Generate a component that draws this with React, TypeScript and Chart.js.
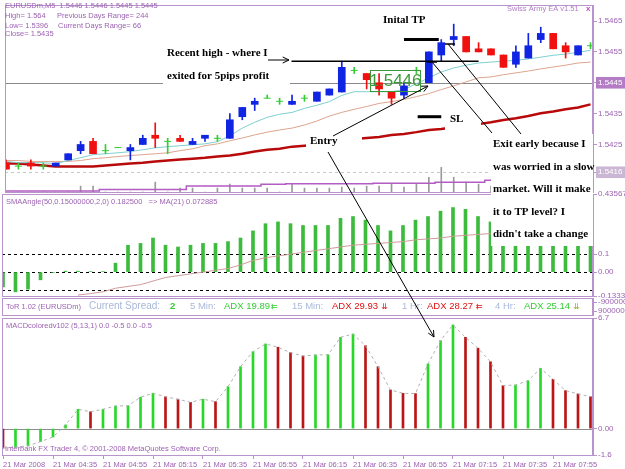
import React, { useEffect, useRef } from 'react';
import { Chart, registerables } from 'chart.js';
Chart.register(...registerables);

const W = 625;
const H = 469;
const X_MIN = -0.08;
const X_MAX = 47.2;
const AXIS_C = '#b994cc';
const TXT_C = '#9c62b2';
const UI = "'Liberation Sans', Arial, sans-serif";
const TICKF = "'Liberation Sans Narrow', 'Liberation Sans', sans-serif";
const NOTE = "bold 11px 'Liberation Serif', 'Times New Roman', serif";
const BULL = '#1024e4';
const BEAR = '#f01010';
const DOJI = '#33cc33';

// ---- time axis (5-minute bars, 21 Mar 2008 04:15 .. 08:10)
const tickBars = [0, 4, 8, 12, 16, 20, 24, 28, 32, 36, 40, 44];
const tickLabels = ['21 Mar 2008', '21 Mar 04:35', '21 Mar 04:55', '21 Mar 05:15', '21 Mar 05:35', '21 Mar 05:55', '21 Mar 06:15', '21 Mar 06:35', '21 Mar 06:55', '21 Mar 07:15', '21 Mar 07:35', '21 Mar 07:55'];

// ---- price candles
const open = [1.5419, 1.5418, 1.5419, 1.5418, 1.5418, 1.5420, 1.5423, 1.5426, 1.5423, 1.5424, 1.5423, 1.5425, 1.5428, 1.5426, 1.5427, 1.5425, 1.5427, 1.5427, 1.5427, 1.5434, 1.5438, 1.5440, 1.5439, 1.5438, 1.5440, 1.5439, 1.5441, 1.5442, 1.5449, 1.5448, 1.5445, 1.5442, 1.5441, 1.5449, 1.5445, 1.5454, 1.5459, 1.5460, 1.5456, 1.5456, 1.5454, 1.5451, 1.5453, 1.5459, 1.5461, 1.5457, 1.5454, 1.5457];
const high = [1.5420, 1.5419, 1.5420, 1.5419, 1.5419, 1.5422, 1.5426, 1.5427, 1.5425, 1.5424, 1.5425, 1.5428, 1.5432, 1.5427, 1.5428, 1.5427, 1.5428, 1.5428, 1.5435, 1.5437, 1.5440, 1.5441, 1.5440, 1.5441, 1.5441, 1.5442, 1.5443, 1.5452, 1.5450, 1.5448, 1.5448, 1.5442, 1.5445, 1.5450, 1.5455, 1.5459, 1.5464, 1.5460, 1.5458, 1.5456, 1.5454, 1.5457, 1.5461, 1.5463, 1.5461, 1.5458, 1.5457, 1.5458];
const low = [1.5417, 1.5417, 1.5417, 1.5417, 1.5418, 1.5420, 1.5422, 1.5422, 1.5422, 1.5424, 1.5420, 1.5425, 1.5424, 1.5422, 1.5426, 1.5425, 1.5426, 1.5426, 1.5427, 1.5433, 1.5436, 1.5440, 1.5438, 1.5438, 1.5439, 1.5439, 1.5441, 1.5442, 1.5448, 1.5443, 1.5441, 1.5438, 1.5440, 1.5448, 1.5445, 1.5452, 1.5457, 1.5455, 1.5455, 1.5454, 1.5450, 1.5450, 1.5453, 1.5458, 1.5456, 1.5453, 1.5454, 1.5456];
const close = [1.5417, 1.5418, 1.5418, 1.5418, 1.5419, 1.5422, 1.5425, 1.5422, 1.5423, 1.5424, 1.5424, 1.5427, 1.5427, 1.5426, 1.5426, 1.5426, 1.5428, 1.5427, 1.5433, 1.5437, 1.5439, 1.5440, 1.5439, 1.5439, 1.5440, 1.5442, 1.5443, 1.5450, 1.5449, 1.5446, 1.5443, 1.5440, 1.5444, 1.5449, 1.5455, 1.5458, 1.5460, 1.5455, 1.5455, 1.5454, 1.5450, 1.5455, 1.5457, 1.5461, 1.5456, 1.5455, 1.5457, 1.5457];

// ---- moving averages on price
const maFast = [1.54195, 1.54191, 1.54191, 1.54191, 1.54188, 1.54198, 1.54207, 1.54217, 1.54220, 1.54223, 1.54227, 1.54233, 1.54239, 1.54243, 1.54246, 1.54249, 1.54252, 1.54259, 1.54278, 1.54303, 1.54322, 1.54338, 1.54348, 1.54354, 1.54367, 1.54377, 1.54389, 1.54409, 1.54421, 1.54421, 1.54421, 1.54421, 1.54428, 1.54447, 1.54466, 1.54485, 1.54498, 1.54507, 1.54514, 1.54517, 1.54520, 1.54523, 1.54527, 1.54533, 1.54539, 1.54543, 1.54549, 1.54555];
const maMid = [1.54198, 1.54198, 1.54195, 1.54195, 1.54195, 1.54195, 1.54198, 1.54204, 1.54207, 1.54211, 1.54214, 1.54217, 1.54220, 1.54223, 1.54230, 1.54236, 1.54246, 1.54252, 1.54262, 1.54271, 1.54281, 1.54290, 1.54297, 1.54303, 1.54313, 1.54326, 1.54342, 1.54354, 1.54364, 1.54373, 1.54383, 1.54389, 1.54396, 1.54405, 1.54415, 1.54428, 1.54440, 1.54453, 1.54466, 1.54469, 1.54476, 1.54482, 1.54488, 1.54495, 1.54501, 1.54507, 1.54514, 1.54517];
const maSlow = [1.54188, 1.54188, 1.54185, 1.54182, 1.54179, 1.54179, 1.54179, 1.54179, 1.54182, 1.54185, 1.54188, 1.54191, 1.54195, 1.54198, 1.54201, 1.54204, 1.54207, 1.54211, 1.54214, 1.54220, 1.54227, 1.54233, 1.54236, 1.54243, 1.54246, 1.54249, 1.54255, 1.54262, 1.54268, 1.54271, 1.54274, 1.54281, 1.54284, 1.54290, 1.54297, 1.54300, 1.54306, 1.54310, 1.54316, 1.54322, 1.54329, 1.54335, 1.54342, 1.54351, 1.54357, 1.54364, 1.54370, 1.54380];

// ---- volume strip at the foot of the price window
const volLine = [0.1, 0.1, 0.1, 0.1, 0.1, 0.1, 0.1, 0.1, 0.25, 0.25, 0.25, 0.25, 0.25, 0.25, 0.25, 0.6, 0.6, 0.6, 0.6, 0.6, 0.6, 0.8, 0.8, 0.85, 0.85, 0.85, 0.85, 0.85, 0.85, 0.85, 0.9, 0.9, 0.9, 0.9, 0.9, 1.0, 1.0, 1.0, 1.0, 1.2, 1.2, 1.2, 1.2, 1.2, 1.2, 1.2, 1.2, 1.2];
const volTicks = [0, 0, 0, 0, 0, 0, 0.6, 0.6, 0, 0, 0, 0, 1.0, 0, 0.4, 0.4, 0, 0.4, 0.8, 0.4, 0.4, 0.4, 0, 0.8, 0.4, 0.4, 0.4, 0.5, 0.4, 0.6, 0.6, 0.8, 0.5, 0.8, 1.5, 2.5, 1.5, 1.0, 0.8, 0.6, 0.5, 0.5, 0.4, 0.5, 0.4, 0.4, 0.5, 0.4];

// ---- price axis
const priceTicks = [1.5465, 1.5455, 1.5445, 1.5435, 1.5425, 1.5416];
const bidLevel = 1.5445;
const lowLevel = 1.5416;

// ---- SMAAngle window
const smaAngle = [-0.083, -0.11, -0.095, -0.043, -0.003, 0.005, 0.005, 0.003, 0.003, 0.05, 0.15, 0.16, 0.19, 0.15, 0.14, 0.15, 0.16, 0.16, 0.17, 0.19, 0.23, 0.27, 0.28, 0.27, 0.26, 0.26, 0.26, 0.30, 0.31, 0.29, 0.26, 0.23, 0.26, 0.29, 0.31, 0.34, 0.36, 0.35, 0.31, 0.28, 0.26, 0.25, 0.25, 0.26, 0.25, 0.24, 0.23, 0.22];
const smaAngleMA = [null, null, null, null, null, null, -0.128, -0.12, -0.11, -0.09, -0.08, -0.07, -0.05, -0.03, -0.02, -0.01, 0, 0.01, 0.02, 0.04, 0.065, 0.08, 0.09, 0.10, 0.11, 0.12, 0.13, 0.14, 0.15, 0.155, 0.16, 0.165, 0.17, 0.18, 0.185, 0.19, 0.2, 0.205, 0.21, 0.215, 0.22, 0.225, 0.23, 0.235, 0.24, 0.245, 0.25, 0.25];
const smaTicks = [0.435675, 0.1, 0, -0.13337];
const smaTickLabels = ['0.435675', '0.1', '0.00', '-0.13337'];
const smaLevels = [0.1, 0, -0.1];

// ---- ToR window
const torTicks = [-9000000, 9000000];

// ---- MACD window
const macd = [-1.18, -1.12, -1.05, -0.79, -0.51, 0.22, 1.17, 1.02, 1.17, 1.37, 1.38, 1.90, 2.14, 1.93, 1.78, 1.59, 1.78, 1.63, 2.54, 3.75, 4.66, 5.13, 4.93, 4.60, 4.40, 4.46, 4.47, 5.53, 5.73, 5.02, 3.75, 2.34, 2.14, 2.12, 3.92, 5.33, 6.28, 5.53, 4.87, 4.05, 2.60, 2.64, 2.90, 3.65, 2.99, 2.30, 2.10, 1.93];
const macdSignal = [-1.18, -1.12, -1.05, -0.79, -0.51, 0.22, 1.17, 1.02, 1.17, 1.37, 1.38, 1.90, 2.14, 1.93, 1.78, 1.59, 1.78, 1.63, 2.54, 3.75, 4.66, 5.13, 4.93, 4.60, 4.40, 4.46, 4.47, 5.53, 5.73, 5.02, 3.75, 2.34, 2.14, 2.12, 3.92, 5.33, 6.28, 5.53, 4.87, 4.05, 2.60, 2.64, 2.90, 3.65, 2.99, 2.30, 2.10, 1.93];
const macdTicks = [6.7, 0, -1.6];
const macdTickLabels = ['6.7', '0.00', '-1.6'];

// ---- chart drawings (price / bar coordinates)
const recentHigh = { price: 1.5452, from: 22.96, to: 38 };
const tpMark = { price: 1.5459, from: 32, to: 34.8 };
const slMark = { price: 1.5434, from: 33.1, to: 35 };

const bars = open.map((_, i) => i);

function txt(ctx: any, s: string, x: number, y: number, font: string, color: string, align = 'left') {
  ctx.save();
  ctx.font = font;
  ctx.fillStyle = color;
  ctx.textAlign = align;
  ctx.textBaseline = 'middle';
  ctx.fillText(s, x, y);
  ctx.restore();
}

function line(ctx: any, x1: number, y1: number, x2: number, y2: number, w = 1, color = '#000', dash: number[] = []) {
  ctx.save();
  ctx.strokeStyle = color;
  ctx.lineWidth = w;
  ctx.setLineDash(dash);
  ctx.beginPath();
  ctx.moveTo(x1, y1);
  ctx.lineTo(x2, y2);
  ctx.stroke();
  ctx.restore();
}

function arrow(ctx: any, x1: number, y1: number, x2: number, y2: number) {
  line(ctx, x1, y1, x2, y2);
  const a = Math.atan2(y2 - y1, x2 - x1);
  const L = 7;
  line(ctx, x2, y2, x2 - L * Math.cos(a - 0.45), y2 - L * Math.sin(a - 0.45));
  line(ctx, x2, y2, x2 - L * Math.cos(a + 0.45), y2 - L * Math.sin(a + 0.45));
}

function border(chart: any) {
  const { ctx, chartArea: a } = chart;
  ctx.save();
  ctx.strokeStyle = AXIS_C;
  ctx.lineWidth = 1;
  ctx.strokeRect(a.left + 0.5, a.top + 0.5, a.right - a.left - 1, a.bottom - a.top);
  ctx.restore();
}

function levels(chart: any, axis: string, vals: number[], color: string, dash: number[]) {
  const { ctx, chartArea: a } = chart;
  const s = chart.scales[axis];
  vals.forEach((v) => {
    const y = Math.round(s.getPixelForValue(v)) + 0.5;
    line(ctx, a.left, y, a.right, y, 1, color, dash);
  });
}

function xScale(show: boolean) {
  return {
    type: 'linear',
    min: X_MIN,
    max: X_MAX,
    offset: false,
    display: show,
    grid: { display: true, offset: false, drawOnChartArea: false, drawTicks: true, tickLength: 4, color: AXIS_C },
    border: { display: false },
    afterBuildTicks: (s: any) => { s.ticks = tickBars.map((v) => ({ value: v })); },
    ticks: {
      autoSkip: false, maxRotation: 0, minRotation: 0, align: 'start', padding: 1,
      color: TXT_C, font: { family: TICKF, size: 7.5 },
      callback: (v: number) => { const k = tickBars.indexOf(v); return k >= 0 ? tickLabels[k] : ''; },
    },
    afterFit: (s: any) => { s.height = show ? 14 : 0; s.paddingLeft = 0; s.paddingRight = 0; s.paddingTop = 0; s.paddingBottom = 0; },
  };
}

function yScale(min: number, max: number, tv: number[], fmt: (v: number) => string, extra: any = {}) {
  return {
    type: 'linear',
    position: 'right',
    min, max,
    grid: { display: true, drawOnChartArea: false, tickLength: 4, color: AXIS_C },
    border: { display: true, color: AXIS_C },
    afterBuildTicks: (s: any) => { s.ticks = tv.map((v) => ({ value: v })); },
    ticks: { autoSkip: false, padding: 1, color: TXT_C, font: { family: TICKF, size: 8 }, callback: fmt, ...(extra.ticks || {}) },
    afterFit: (s: any) => { s.width = 32; s.paddingTop = 0; s.paddingBottom = 0; s.paddingLeft = 0; s.paddingRight = 0; },
    ...(extra.rest || {}),
  };
}

function base(top: number, bottom: number) {
  return {
    responsive: false,
    maintainAspectRatio: false,
    animation: false,
    devicePixelRatio: 1,
    events: [],
    layout: { padding: { left: 2, right: 0, top, bottom } },
    plugins: { legend: { display: false }, tooltip: { enabled: false }, title: { display: false } },
  };
}

const candleColor = (i: number) => (close[i] > open[i] ? BULL : close[i] < open[i] ? BEAR : DOJI);

function priceConfig(): any {
  return {
    type: 'bar',
    data: {
      datasets: [
        { type: 'scatter', data: bars.filter((i) => open[i] === close[i]).map((i) => ({ x: i, y: close[i] })), pointStyle: 'line', pointRadius: 3.5, borderColor: DOJI, borderWidth: 1, yAxisID: 'y' },
        { type: 'bar', data: bars.map((i) => ({ x: i, y: open[i] === close[i] ? null : [open[i], close[i]] })), backgroundColor: bars.map(candleColor), barThickness: 7, grouped: false, yAxisID: 'y' },
        { type: 'bar', data: bars.map((i) => ({ x: i, y: [low[i], high[i]] })), backgroundColor: bars.map(candleColor), barThickness: 1, grouped: false, yAxisID: 'y' },
        { type: 'line', data: bars.map((i) => ({ x: i, y: maFast[i] })), borderColor: '#7fcfcf', borderWidth: 1, pointRadius: 0, yAxisID: 'y' },
        { type: 'line', data: bars.map((i) => ({ x: i, y: maMid[i] })), borderColor: '#dda58e', borderWidth: 1, pointRadius: 0, yAxisID: 'y' },
        { type: 'line', data: bars.map((i) => ({ x: i, y: maSlow[i] })), borderColor: '#b80a0a', borderWidth: 2.5, pointRadius: 0, yAxisID: 'y' },
        { type: 'line', data: bars.map((i) => ({ x: i, y: volLine[i] })), borderColor: '#b25cc4', borderWidth: 1.5, pointRadius: 0, stepped: 'middle', yAxisID: 'yv' },
        { type: 'bar', data: bars.map((i) => ({ x: i, y: volTicks[i] })), backgroundColor: '#9a9a9a', barThickness: 1, grouped: false, yAxisID: 'yv' },
      ],
    },
    options: {
      ...base(2, H - 192),
      scales: {
        x: xScale(false),
        y: yScale(1.54096, 1.54702, priceTicks, (v: number) => v.toFixed(4), {
          ticks: {
            showLabelBackdrop: (c: any) => c.tick && (c.tick.value === bidLevel || c.tick.value === lowLevel),
            backdropColor: (c: any) => (c.tick && c.tick.value === bidLevel ? '#b57cc6' : '#cbb7d4'),
            backdropPadding: { top: 1, bottom: 1, left: 2, right: 6 },
            color: (c: any) => (c.tick && (c.tick.value === bidLevel || c.tick.value === lowLevel) ? '#ffffff' : TXT_C),
          },
        }),
        yv: { type: 'linear', display: false, min: 0, max: 19 },
      },
    },
    plugins: [{
      id: 'priceDecor',
      beforeDatasetsDraw(chart: any) {
        levels(chart, 'y', [bidLevel], '#8a8a8a', []);
        levels(chart, 'y', [lowLevel], '#c8c8c8', [3, 3]);
      },
      afterDraw(chart: any) {
        const { ctx } = chart;
        const xs = chart.scales.x;
        const ys = chart.scales.y;
        border(chart);
        const f = `7.5px ${UI}`;
        txt(ctx, 'EURUSDm,M5  1.5446 1.5446 1.5445 1.5445', 5, 6, f, TXT_C);
        txt(ctx, 'High= 1.564', 5, 15.5, f, TXT_C);
        txt(ctx, 'Previous Days Range= 244', 57, 15.5, f, TXT_C);
        txt(ctx, 'Low= 1.5396', 5, 25.5, f, TXT_C);
        txt(ctx, 'Current Days Range= 66', 58, 25.5, f, TXT_C);
        txt(ctx, 'Close= 1.5435', 5, 34, f, TXT_C);
        txt(ctx, 'Swiss Army EA v1.51', 507, 9, f, '#b07ec4');
        txt(ctx, 'x', 586, 9, `bold 8px ${UI}`, '#c050c0');

        const hl = (m: any, w: number) => {
          const y = ys.getPixelForValue(m.price);
          line(ctx, xs.getPixelForValue(m.from), y, xs.getPixelForValue(m.to), y, w, '#000');
        };
        hl(recentHigh, 1.5);
        hl(tpMark, 3);
        hl(slMark, 3);

        ctx.save();
        ctx.strokeStyle = '#3a9a3a';
        ctx.lineWidth = 1;
        ctx.strokeRect(370.5, 70.5, 50, 21);
        ctx.restore();
        txt(ctx, '1.5446', 395.5, 81.5, `17px ${UI}`, '#3a9a3a', 'center');

        ctx.save();
        ctx.fillStyle = '#ffffff';
        ctx.fillRect(163, 44, 127, 44);
        ctx.fillRect(306, 132, 56, 18);
        ctx.fillRect(445, 108, 36, 23);
        ctx.fillRect(491, 134, 102, 112);
        ctx.restore();

        txt(ctx, 'Inital TP', 383, 20, NOTE, '#000');
        txt(ctx, 'Recent high - where I', 167, 53, NOTE, '#000');
        txt(ctx, 'exited for 5pips profit', 167, 76, NOTE, '#000');
        txt(ctx, 'Entry', 310, 141, NOTE, '#000');
        txt(ctx, 'SL', 450, 119, NOTE, '#000');
        txt(ctx, 'Exit early because I', 493, 144, NOTE, '#000');
        txt(ctx, 'was worried in a slow', 493, 167, NOTE, '#000');
        txt(ctx, 'market. Will it make', 493, 189, NOTE, '#000');
        txt(ctx, 'it to TP level? I', 493, 212, NOTE, '#000');
        txt(ctx, "didn't take a change", 493, 234, NOTE, '#000');

        arrow(ctx, 268, 60, 289, 60);
        arrow(ctx, 333, 136, 428, 86);
        arrow(ctx, 328, 152, 434, 337);
        line(ctx, 432, 62, 492, 133);
        line(ctx, 448, 44, 521, 134);
        line(ctx, 427, 62, 437, 62, 1.5);
        line(ctx, 445, 44, 455, 44, 1.5);
      },
    }],
  };
}

function smaConfig(): any {
  return {
    type: 'bar',
    data: {
      datasets: [
        { type: 'line', data: bars.map((i) => ({ x: i, y: smaAngleMA[i] })), borderColor: '#cf9a9a', borderWidth: 1, pointRadius: 0 },
        { type: 'bar', data: bars.map((i) => ({ x: i, y: smaAngle[i] })), backgroundColor: '#3dbb3d', barThickness: 3, grouped: false },
      ],
    },
    options: {
      ...base(194, H - 296),
      scales: {
        x: xScale(false),
        y: yScale(-0.13337, 0.435675, smaTicks, (v: number) => smaTickLabels[smaTicks.indexOf(v)] ?? ''),
      },
    },
    plugins: [{
      id: 'smaDecor',
      beforeDatasetsDraw(chart: any) { levels(chart, 'y', smaLevels, '#000000', [3, 3]); },
      afterDraw(chart: any) {
        border(chart);
        txt(chart.ctx, 'SMAAngle(50,0.15000000,2,0) 0.182500   => MA(21) 0.072885', 6, 202, `7.5px ${UI}`, TXT_C);
      },
    }],
  };
}

function torConfig(): any {
  return {
    type: 'bar',
    data: { datasets: [] },
    options: {
      ...base(298, H - 315),
      scales: {
        x: xScale(false),
        y: yScale(-17000000, 17000000, torTicks, (v: number) => String(v), { rest: { reverse: true } }),
      },
    },
    plugins: [{
      id: 'torDecor',
      afterDraw(chart: any) {
        const { ctx } = chart;
        border(chart);
        const y = 306.5;
        const f = `9.5px ${UI}`;
        txt(ctx, 'ToR 1.02 (EURUSDm)', 6, y, `7.5px ${UI}`, TXT_C);
        txt(ctx, 'Current Spread:', 89, y, `10px ${UI}`, '#a9b8d8');
        txt(ctx, '2', 170, y, `bold 9.5px ${UI}`, '#33cc33');
        txt(ctx, '5 Min:', 190, y, f, '#a9b8d8');
        txt(ctx, 'ADX 19.89', 224, y, f, '#33cc33');
        txt(ctx, '⇇', 271, y, `8px 'DejaVu Sans'`, '#33cc33');
        txt(ctx, '15 Min:', 292, y, f, '#a9b8d8');
        txt(ctx, 'ADX 29.93', 332, y, f, '#dd1111');
        txt(ctx, '⇊', 381, y, `8px 'DejaVu Sans'`, '#dd1111');
        txt(ctx, '1 Hr:', 402, y, f, '#a9b8d8');
        txt(ctx, 'ADX 28.27', 427, y, f, '#dd1111');
        txt(ctx, '⇇', 476, y, `8px 'DejaVu Sans'`, '#dd1111');
        txt(ctx, '4 Hr:', 495, y, f, '#a9b8d8');
        txt(ctx, 'ADX 25.14', 524, y, f, '#33cc33');
        txt(ctx, '⇊', 573, y, `8px 'DejaVu Sans'`, '#99aa22');
      },
    }],
  };
}

function macdConfig(): any {
  const colors = bars.map((i) => (i > 0 && macd[i] >= macd[i - 1] ? '#28d828' : '#bb1515'));
  return {
    type: 'bar',
    data: {
      datasets: [
        { type: 'line', data: bars.map((i) => ({ x: i, y: macdSignal[i] })), borderColor: '#b0b0b0', borderWidth: 1, borderDash: [3, 3], pointRadius: 0 },
        { type: 'bar', data: bars.map((i) => ({ x: i, y: macd[i] })), backgroundColor: colors, barThickness: 2, grouped: false },
      ],
    },
    options: {
      ...base(318, 0),
      scales: {
        x: xScale(true),
        y: yScale(-1.6, 6.7, macdTicks, (v: number) => macdTickLabels[macdTicks.indexOf(v)] ?? ''),
      },
    },
    plugins: [{
      id: 'macdDecor',
      beforeDatasetsDraw(chart: any) { levels(chart, 'y', [0], '#8c8c8c', []); },
      afterDraw(chart: any) {
        border(chart);
        txt(chart.ctx, 'MACDcoloredv102 (5,13,1) 0.0 -0.5 0.0 -0.5', 6, 326, `7.5px ${UI}`, TXT_C);
        txt(chart.ctx, 'Interbank FX Trader 4, © 2001-2008 MetaQuotes Software Corp.', 5, 449, `7.5px ${UI}`, TXT_C);
      },
    }],
  };
}

export default function App() {
  const pRef = useRef<HTMLCanvasElement>(null);
  const sRef = useRef<HTMLCanvasElement>(null);
  const tRef = useRef<HTMLCanvasElement>(null);
  const mRef = useRef<HTMLCanvasElement>(null);

  useEffect(() => {
    document.body.style.margin = '0';
    const charts: Chart[] = [];
    charts.push(new Chart(mRef.current as HTMLCanvasElement, macdConfig()));
    charts.push(new Chart(tRef.current as HTMLCanvasElement, torConfig()));
    charts.push(new Chart(sRef.current as HTMLCanvasElement, smaConfig()));
    charts.push(new Chart(pRef.current as HTMLCanvasElement, priceConfig()));
    return () => charts.forEach((c) => c.destroy());
  }, []);

  const cs: React.CSSProperties = { position: 'absolute', left: 0, top: 0, width: W, height: H };
  return (
    <div style={{ position: 'relative', width: W, height: H, background: '#ffffff', overflow: 'hidden' }}>
      <canvas ref={mRef} width={W} height={H} style={cs} />
      <canvas ref={tRef} width={W} height={H} style={cs} />
      <canvas ref={sRef} width={W} height={H} style={cs} />
      <canvas ref={pRef} width={W} height={H} style={cs} />
    </div>
  );
}
